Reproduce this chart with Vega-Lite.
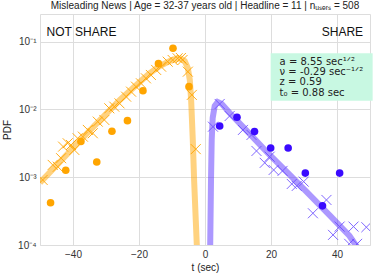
{
  "$schema": "https://vega.github.io/schema/vega-lite/v6.json",
  "width": 330,
  "height": 231,
  "autosize": {"type": "none"},
  "padding": {"left": 40, "top": 14, "right": 4, "bottom": 30},
  "title": {"text": "Misleading News |  Age = 32-37 years old | Headline = 11 | nᵤₛₑᵣₛ = 508", "fontSize": 10, "font": "Liberation Sans", "fontWeight": "normal", "color": "#222222", "offset": 3},
  "config": {
    "view": {"stroke": "#dddddd", "strokeWidth": 1},
    "axis": {"domain": false, "ticks": false, "gridColor": "#dddddd", "gridWidth": 1, "labelColor": "#333333", "labelFont": "Liberation Sans", "labelFontSize": 10, "titleFont": "Liberation Sans", "titleFontSize": 10, "titleFontWeight": "normal", "titleColor": "#222222"}
  },
  "datasets": {
    "pts": [
      {"group": "NS", "kind": "fit", "t": -50, "pdf": 0.00083},
      {"group": "NS", "kind": "fit", "t": -44.0, "pdf": 0.00168},
      {"group": "NS", "kind": "fit", "t": -38.0, "pdf": 0.00343},
      {"group": "NS", "kind": "fit", "t": -31.9, "pdf": 0.00689},
      {"group": "NS", "kind": "fit", "t": -25.8, "pdf": 0.0138},
      {"group": "NS", "kind": "fit", "t": -19.8, "pdf": 0.0255},
      {"group": "NS", "kind": "fit", "t": -16.8, "pdf": 0.034},
      {"group": "NS", "kind": "fit", "t": -13.7, "pdf": 0.0438},
      {"group": "NS", "kind": "fit", "t": -10.7, "pdf": 0.0519},
      {"group": "NS", "kind": "fit", "t": -8.9, "pdf": 0.0556},
      {"group": "NS", "kind": "fit", "t": -7.4, "pdf": 0.0565},
      {"group": "NS", "kind": "fit", "t": -6.15, "pdf": 0.0519},
      {"group": "NS", "kind": "fit", "t": -5.2, "pdf": 0.0409},
      {"group": "NS", "kind": "fit", "t": -4.6, "pdf": 0.0272},
      {"group": "NS", "kind": "fit", "t": -4.2, "pdf": 0.0138},
      {"group": "NS", "kind": "fit", "t": -3.7, "pdf": 0.00355},
      {"group": "NS", "kind": "fit", "t": -3.3, "pdf": 0.00091},
      {"group": "NS", "kind": "fit", "t": -2.8, "pdf": 0.000234},
      {"group": "NS", "kind": "fit", "t": -2.4, "pdf": 0.00008},
      {"group": "S", "kind": "fit", "t": 1.55, "pdf": 0.00008},
      {"group": "S", "kind": "fit", "t": 1.82, "pdf": 0.00091},
      {"group": "S", "kind": "fit", "t": 2.03, "pdf": 0.00355},
      {"group": "S", "kind": "fit", "t": 2.33, "pdf": 0.0075},
      {"group": "S", "kind": "fit", "t": 2.94, "pdf": 0.01127},
      {"group": "S", "kind": "fit", "t": 3.85, "pdf": 0.0129},
      {"group": "S", "kind": "fit", "t": 5.06, "pdf": 0.0121},
      {"group": "S", "kind": "fit", "t": 7.5, "pdf": 0.00887},
      {"group": "S", "kind": "fit", "t": 13.55, "pdf": 0.00436},
      {"group": "S", "kind": "fit", "t": 19.6, "pdf": 0.00213},
      {"group": "S", "kind": "fit", "t": 25.7, "pdf": 0.00108},
      {"group": "S", "kind": "fit", "t": 31.7, "pdf": 0.000548},
      {"group": "S", "kind": "fit", "t": 37.8, "pdf": 0.000273},
      {"group": "S", "kind": "fit", "t": 43.8, "pdf": 0.000136},
      {"group": "S", "kind": "fit", "t": 47.0, "pdf": 0.00008},
      {"group": "NS", "kind": "sim", "t": -49.2, "pdf": 0.000912},
      {"group": "NS", "kind": "sim", "t": -46.15, "pdf": 0.00152},
      {"group": "NS", "kind": "sim", "t": -44.6, "pdf": 0.00143},
      {"group": "NS", "kind": "sim", "t": -43.6, "pdf": 0.00191},
      {"group": "NS", "kind": "sim", "t": -43.0, "pdf": 0.00283},
      {"group": "NS", "kind": "sim", "t": -41.6, "pdf": 0.00317},
      {"group": "NS", "kind": "sim", "t": -40.6, "pdf": 0.00299},
      {"group": "NS", "kind": "sim", "t": -39.6, "pdf": 0.00253},
      {"group": "NS", "kind": "sim", "t": -38.6, "pdf": 0.00376},
      {"group": "NS", "kind": "sim", "t": -37.0, "pdf": 0.00397},
      {"group": "NS", "kind": "sim", "t": -35.5, "pdf": 0.00499},
      {"group": "NS", "kind": "sim", "t": -34.0, "pdf": 0.00446},
      {"group": "NS", "kind": "sim", "t": -32.5, "pdf": 0.00661},
      {"group": "NS", "kind": "sim", "t": -30.5, "pdf": 0.007},
      {"group": "NS", "kind": "sim", "t": -29.0, "pdf": 0.0104},
      {"group": "NS", "kind": "sim", "t": -27.5, "pdf": 0.011},
      {"group": "NS", "kind": "sim", "t": -25.9, "pdf": 0.0123},
      {"group": "NS", "kind": "sim", "t": -23.9, "pdf": 0.01545},
      {"group": "NS", "kind": "sim", "t": -22.4, "pdf": 0.0183},
      {"group": "NS", "kind": "sim", "t": -20.9, "pdf": 0.0217},
      {"group": "NS", "kind": "sim", "t": -19.4, "pdf": 0.0243},
      {"group": "NS", "kind": "sim", "t": -17.9, "pdf": 0.0288},
      {"group": "NS", "kind": "sim", "t": -16.4, "pdf": 0.0323},
      {"group": "NS", "kind": "sim", "t": -14.8, "pdf": 0.0383},
      {"group": "NS", "kind": "sim", "t": -13.3, "pdf": 0.0428},
      {"group": "NS", "kind": "sim", "t": -11.3, "pdf": 0.0507},
      {"group": "NS", "kind": "sim", "t": -9.8, "pdf": 0.0537},
      {"group": "NS", "kind": "sim", "t": -8.3, "pdf": 0.0569},
      {"group": "NS", "kind": "sim", "t": -7.3, "pdf": 0.0575},
      {"group": "NS", "kind": "sim", "t": -6.8, "pdf": 0.0537},
      {"group": "NS", "kind": "sim", "t": -5.2, "pdf": 0.0361},
      {"group": "NS", "kind": "sim", "t": -4.0, "pdf": 0.0164},
      {"group": "NS", "kind": "sim", "t": -2.8, "pdf": 0.0026},
      {"group": "S", "kind": "sim", "t": 2.42, "pdf": 0.00557},
      {"group": "S", "kind": "sim", "t": 4.45, "pdf": 0.01205},
      {"group": "S", "kind": "sim", "t": 7.48, "pdf": 0.00802},
      {"group": "S", "kind": "sim", "t": 11.5, "pdf": 0.00499},
      {"group": "S", "kind": "sim", "t": 14.1, "pdf": 0.00421},
      {"group": "S", "kind": "sim", "t": 15.6, "pdf": 0.00244},
      {"group": "S", "kind": "sim", "t": 18.1, "pdf": 0.00163},
      {"group": "S", "kind": "sim", "t": 19.6, "pdf": 0.00201},
      {"group": "S", "kind": "sim", "t": 20.8, "pdf": 0.00128},
      {"group": "S", "kind": "sim", "t": 23.5, "pdf": 0.00124},
      {"group": "S", "kind": "sim", "t": 26.3, "pdf": 0.000796},
      {"group": "S", "kind": "sim", "t": 27.8, "pdf": 0.000744},
      {"group": "S", "kind": "sim", "t": 29.9, "pdf": 0.000861},
      {"group": "S", "kind": "sim", "t": 32.7, "pdf": 0.000294},
      {"group": "S", "kind": "sim", "t": 36.8, "pdf": 0.000462},
      {"group": "S", "kind": "sim", "t": 38.8, "pdf": 0.000141},
      {"group": "S", "kind": "sim", "t": 40.8, "pdf": 0.000187},
      {"group": "S", "kind": "sim", "t": 43.7, "pdf": 0.000104},
      {"group": "S", "kind": "sim", "t": 45.0, "pdf": 0.000187},
      {"group": "S", "kind": "sim", "t": 46.1, "pdf": 0.000104},
      {"group": "S", "kind": "sim", "t": 48.9, "pdf": 0.000183},
      {"group": "NS", "kind": "emp", "t": -46.8, "pdf": 0.000421},
      {"group": "NS", "kind": "emp", "t": -42.2, "pdf": 0.00127},
      {"group": "NS", "kind": "emp", "t": -37.6, "pdf": 0.00337},
      {"group": "NS", "kind": "emp", "t": -32.8, "pdf": 0.00168},
      {"group": "NS", "kind": "emp", "t": -28.2, "pdf": 0.00478},
      {"group": "NS", "kind": "emp", "t": -23.5, "pdf": 0.00684},
      {"group": "NS", "kind": "emp", "t": -18.8, "pdf": 0.0189},
      {"group": "NS", "kind": "emp", "t": -14.1, "pdf": 0.0474},
      {"group": "NS", "kind": "emp", "t": -9.7, "pdf": 0.08},
      {"group": "NS", "kind": "emp", "t": -4.85, "pdf": 0.0217},
      {"group": "S", "kind": "emp", "t": 4.45, "pdf": 0.00571},
      {"group": "S", "kind": "emp", "t": 9.7, "pdf": 0.00767},
      {"group": "S", "kind": "emp", "t": 15.0, "pdf": 0.00471},
      {"group": "S", "kind": "emp", "t": 19.9, "pdf": 0.0027},
      {"group": "S", "kind": "emp", "t": 25.2, "pdf": 0.0027},
      {"group": "S", "kind": "emp", "t": 30.4, "pdf": 0.00115},
      {"group": "S", "kind": "emp", "t": 35.6, "pdf": 0.000378},
      {"group": "S", "kind": "emp", "t": 40.8, "pdf": 0.00115}
    ],
    "labels": [
      {"label": "NOT SHARE", "side": "left", "t": -48, "pdf": 0.139},
      {"label": "SHARE", "side": "right", "t": 47.9, "pdf": 0.139}
    ],
    "box": [
      {"t": 19.9, "t2": 50.8, "pdf": 0.0675, "pdf2": 0.0135}
    ],
    "params": [
      {"t": 22.6, "pdf": 0.0601}
    ]
  },
  "layer": [
    {"data": {"name": "pts"},
     "transform": [{"filter": "datum.kind == 'fit' && datum.group == 'NS'"}],
     "mark": {"type": "line", "color": "#ffa500", "opacity": 0.5, "strokeWidth": 6, "clip": true, "strokeCap": "butt"},
     "encoding": {
       "x": {"field": "t", "type": "quantitative", "scale": {"domain": [-50, 50], "nice": false, "zero": false},
             "axis": {"values": [-40, -20, 0, 20, 40], "title": "t (sec)", "labelPadding": 4, "titlePadding": 3}},
       "y": {"field": "pdf", "type": "quantitative", "scale": {"type": "log", "domain": [0.0001, 0.2563], "nice": false},
             "axis": {"values": [0.0001, 0.001, 0.01, 0.1], "title": "PDF", "labelPadding": 4, "titlePadding": 5,
                      "labelExpr": "datum.value > 0.05 ? '10⁻¹' : datum.value > 0.005 ? '10⁻²' : datum.value > 0.0005 ? '10⁻³' : '10⁻⁴'"}}
     }},
    {"data": {"name": "pts"},
     "transform": [{"filter": "datum.kind == 'fit' && datum.group == 'S'"}],
     "mark": {"type": "line", "color": "#5a32ff", "opacity": 0.5, "strokeWidth": 6, "clip": true, "strokeCap": "butt"},
     "encoding": {"x": {"field": "t", "type": "quantitative"}, "y": {"field": "pdf", "type": "quantitative"}}},
    {"data": {"name": "pts"},
     "transform": [{"filter": "datum.kind == 'sim' && datum.group == 'NS'"}],
     "mark": {"type": "point", "shape": "M-1,-1L1,1M-1,1L1,-1", "filled": false, "color": "#ffa500", "strokeWidth": 1, "size": 100, "opacity": 0.9, "clip": true},
     "encoding": {"x": {"field": "t", "type": "quantitative"}, "y": {"field": "pdf", "type": "quantitative"}}},
    {"data": {"name": "pts"},
     "transform": [{"filter": "datum.kind == 'sim' && datum.group == 'S'"}],
     "mark": {"type": "point", "shape": "M-1,-1L1,1M-1,1L1,-1", "filled": false, "color": "#6a4cff", "strokeWidth": 1, "size": 100, "opacity": 0.85, "clip": true},
     "encoding": {"x": {"field": "t", "type": "quantitative"}, "y": {"field": "pdf", "type": "quantitative"}}},
    {"data": {"name": "pts"},
     "transform": [{"filter": "datum.kind == 'emp' && datum.group == 'NS'"}],
     "mark": {"type": "circle", "color": "#ffa500", "size": 58, "opacity": 1},
     "encoding": {"x": {"field": "t", "type": "quantitative"}, "y": {"field": "pdf", "type": "quantitative"}}},
    {"data": {"name": "pts"},
     "transform": [{"filter": "datum.kind == 'emp' && datum.group == 'S'"}],
     "mark": {"type": "circle", "color": "#3a0aff", "size": 58, "opacity": 1},
     "encoding": {"x": {"field": "t", "type": "quantitative"}, "y": {"field": "pdf", "type": "quantitative"}}},
    {"data": {"name": "box"},
     "mark": {"type": "rect", "color": "#c8f8e2", "clip": false},
     "encoding": {"x": {"field": "t", "type": "quantitative"}, "x2": {"field": "t2"}, "y": {"field": "pdf", "type": "quantitative"}, "y2": {"field": "pdf2"}}},
    {"data": {"name": "params"},
     "mark": {"type": "text", "align": "left", "baseline": "top", "font": "DejaVu Sans", "fontSize": 10, "lineHeight": 10.3, "color": "#222222",
              "text": ["a  =  8.55 sec¹ᐟ²", "ν  =  -0.29 sec⁻¹ᐟ²", "z  =  0.59", "t₀ =  0.88 sec"]},
     "encoding": {"x": {"field": "t", "type": "quantitative"}, "y": {"field": "pdf", "type": "quantitative"}}},
    {"data": {"name": "labels"},
     "transform": [{"filter": "datum.side == 'left'"}],
     "mark": {"type": "text", "align": "left", "baseline": "middle", "font": "Liberation Sans", "fontSize": 12, "color": "#111111"},
     "encoding": {"x": {"field": "t", "type": "quantitative"}, "y": {"field": "pdf", "type": "quantitative"}, "text": {"field": "label"}}},
    {"data": {"name": "labels"},
     "transform": [{"filter": "datum.side == 'right'"}],
     "mark": {"type": "text", "align": "right", "baseline": "middle", "font": "Liberation Sans", "fontSize": 12, "color": "#111111"},
     "encoding": {"x": {"field": "t", "type": "quantitative"}, "y": {"field": "pdf", "type": "quantitative"}, "text": {"field": "label"}}}
  ]
}
